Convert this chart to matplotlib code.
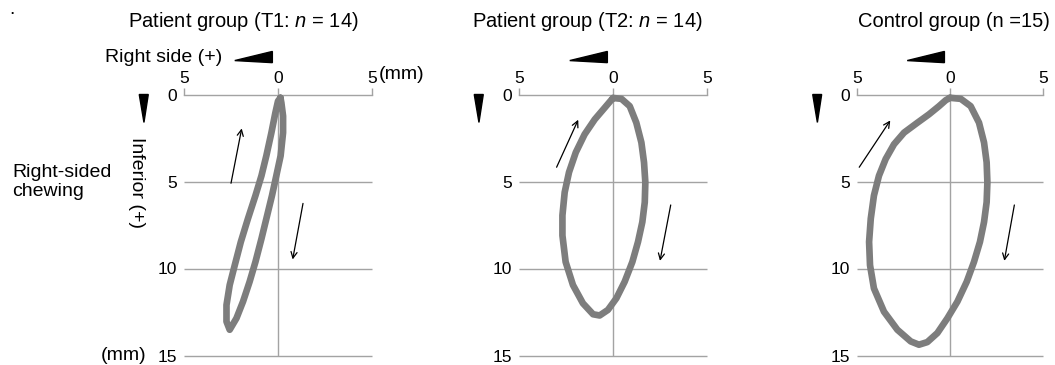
import numpy as np
import matplotlib.pyplot as plt

plt.rcParams['font.family'] = ['Liberation Sans', 'DejaVu Sans']
plt.rcParams['mathtext.fontset'] = 'custom'
plt.rcParams['mathtext.it'] = 'Liberation Sans:italic'
plt.rcParams['mathtext.rm'] = 'Liberation Sans'

# lateral (mm, right side +) and inferior (mm) positions of the chewing path
lat_t1 = [-0.13, -0.18, -0.27, -0.27, -0.14, 0.09, 0.32, 0.62, 0.88, 1.2, 1.51, 1.86, 2.21, 2.57,
          2.74, 2.74, 2.57, 2.3, 1.98, 1.6, 1.2, 0.88, 0.62, 0.35, 0.14, 0.0]
inf_t1 = [0.19, 0.48, 1.24, 2.19, 3.52, 4.67, 5.81, 7.14, 8.29, 9.62, 10.76, 11.9, 12.86, 13.52,
          13.05, 12.1, 10.95, 9.81, 8.48, 7.14, 5.81, 4.67, 3.52, 2.19, 1.05, 0.38]

lat_t2 = [0.0, -0.45, -0.89, -1.24, -1.51, -1.65, -1.72, -1.69, -1.56, -1.33, -1.03, -0.62,
          -0.18, 0.27, 0.71, 1.06, 1.6, 2.13, 2.52, 2.69, 2.69, 2.57, 2.34, 1.98, 1.51, 0.97, 0.44]
inf_t2 = [0.2, 0.25, 0.67, 1.62, 2.76, 3.9, 5.05, 6.19, 7.33, 8.47, 9.62, 10.76,
          11.71, 12.38, 12.7, 12.63, 12.0, 10.95, 9.62, 8.1, 6.95, 5.62, 4.47, 3.33, 2.29, 1.43, 0.76]

lat_ctl = [0.0, -0.58, -1.11, -1.56, -1.83, -1.97, -2.01, -1.97, -1.83, -1.61, -1.29, -0.9,
           -0.4, 0.14, 0.68, 1.22, 1.67, 2.11, 2.83, 3.55, 4.09, 4.3, 4.35, 4.26, 4.09, 3.82,
           3.46, 3.01, 2.47, 1.75, 1.13, 0.59, 0.23]
inf_ctl = [0.19, 0.25, 0.67, 1.62, 2.76, 3.9, 5.05, 6.19, 7.33, 8.47, 9.62, 10.76,
           11.9, 12.86, 13.71, 14.23, 14.38, 14.19, 13.52, 12.48, 11.14, 9.81, 8.47, 7.14, 5.81, 4.67,
           3.71, 2.86, 2.19, 1.62, 1.14, 0.67, 0.33]

# direction arrows: (tail, head) in mm
arrows_t1 = [((2.5, 5.1), (1.93, 1.95)), ((-1.33, 6.26), (-0.78, 9.48))]
arrows_t2 = [((3.0, 4.18), (1.85, 1.45)), ((-3.07, 6.35), (-2.5, 9.56))]
arrows_ctl = [((4.88, 4.18), (3.21, 1.49)), ((-3.46, 6.35), (-2.92, 9.56))]

titles = ['Patient group (T1: $n$ = 14)', 'Patient group (T2: $n$ = 14)', 'Control group (n =15)']
title_x = [0.314, 0.362, 0.52]
xticks = [5, 0, -5]
yticks = [0, 5, 10, 15]

gray = '#a3a3a3'
loop_col = '#7d7d7d'
fs_tick = 12.5
fs = 14
fs_title = 14.5

fig = plt.figure(figsize=(10.55, 3.65), dpi=100)
lefts = [184, 519, 857]
widths = [188, 188, 186]

panels = [(lat_t1, inf_t1, arrows_t1), (lat_t2, inf_t2, arrows_t2), (lat_ctl, inf_ctl, arrows_ctl)]

for i, (lat, inf, arrs) in enumerate(panels):
    ax = fig.add_axes([lefts[i] / 1055, 9.5 / 365, widths[i] / 1055, 261 / 365])
    ax.set_xlim(5, -5)
    ax.set_ylim(15, 0)
    for s in ['left', 'right', 'bottom']:
        ax.spines[s].set_visible(False)
    ax.spines['top'].set_color(gray)
    ax.spines['top'].set_linewidth(1.0)
    ax.xaxis.tick_top()
    ax.set_xticks(xticks)
    ax.set_xticklabels([str(abs(v)) for v in xticks])
    ax.tick_params(axis='x', direction='out', length=5, width=1.0, color=gray, pad=1, labelsize=fs_tick)
    ax.set_yticks(yticks)
    ax.set_yticklabels([str(v) for v in yticks])
    ax.tick_params(axis='y', length=0, pad=5, labelsize=fs_tick)
    ax.patch.set_alpha(0)

    ax.hlines(yticks[1:], 5, -5, color=gray, lw=1.0, clip_on=False)
    ax.vlines(0, 0, 15, color=gray, lw=1.0, clip_on=False)

    ax.plot(lat + [lat[0]], inf + [inf[0]], color=loop_col, lw=4.8,
            solid_joinstyle='round', solid_capstyle='round', clip_on=False, zorder=3)

    for tail, head in arrs:
        ax.annotate('', xy=head, xytext=tail,
                    arrowprops=dict(arrowstyle='->', lw=0.9, color='black',
                                    shrinkA=0, shrinkB=0, mutation_scale=11))

    # black direction wedges
    ax.fill([0.27, 0.47, 0.47], [1.13, 1.165, 1.122], color='black',
            transform=ax.transAxes, clip_on=False)
    ax.fill([-0.238, -0.19, -0.213], [1.0, 1.0, 0.893], color='black',
            transform=ax.transAxes, clip_on=False)

    ax.text(title_x[i], 1.28, titles[i], transform=ax.transAxes, ha='center',
            va='center', fontsize=fs_title)

    if i == 0:
        ax.text(0.205, 1.143, 'Right side (+)', transform=ax.transAxes, ha='right',
                va='center', fontsize=fs)
        ax.text(1.035, 1.077, '(mm)', transform=ax.transAxes, ha='left',
                va='center', fontsize=fs)
        ax.text(-0.2, 0.0, '(mm)', transform=ax.transAxes, ha='right',
                va='center', fontsize=fs)
        ax.text(-0.25, 0.663, 'Inferior (+)', transform=ax.transAxes, ha='center',
                va='center', fontsize=fs, rotation=270)
        ax.text(-0.915, 0.665, 'Right-sided\nchewing', transform=ax.transAxes, ha='left',
                va='center', fontsize=fs, linespacing=1.15)

fig.text(0.009, 0.975, '.', fontsize=fs, ha='left', va='center')

fig.savefig('out.png', dpi=100)
